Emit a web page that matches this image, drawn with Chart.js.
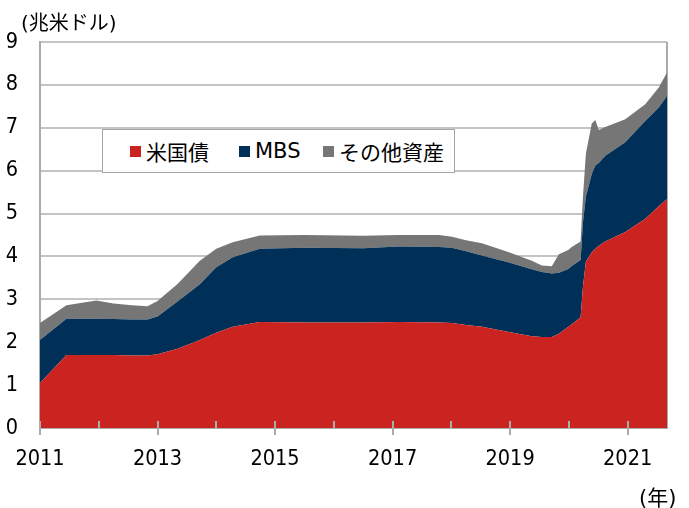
<!DOCTYPE html>
<html>
<head>
<meta charset="utf-8">
<script src="https://cdn.jsdelivr.net/npm/chart.js@4"></script>
<style>
    body { margin: 0; background: #fff; }
    #wrap { position: relative; width: 689px; height: 508px; font-family: "DejaVu Sans", "Noto Sans CJK JP", sans-serif; color: #000; }
    #unit { position: absolute; left: 21px; top: 7px; font-size: 20px; }
    #year { position: absolute; left: 639px; top: 481px; font-size: 21px; }
    #legend { position: absolute; left: 102px; top: 129px; width: 353px; height: 44px; background: #fff;
              border: 1px solid #a6a6a6; box-sizing: border-box; font-size: 21px; }
    #legend span.item { position: absolute; top: 0; height: 42px; display: flex; align-items: center; white-space: nowrap; }
    #legend i { display: inline-block; width: 11px; height: 11px; margin-right: 5px; margin-top: 1px; }
</style>
</head>
<body>
<div id="wrap">
    <canvas id="fed-chart" width="689" height="508"></canvas>
    <div id="unit">(兆米ドル)</div>
    <div id="year">(年)</div>
    <div id="legend"></div>
</div>
<script>
// dates as fractional years
var dates = [2011.00, 2011.45, 2011.96, 2012.25, 2012.56, 2012.83, 2013.00, 2013.34, 2013.72, 2014.00,
    2014.28, 2014.74, 2015.50, 2016.50, 2017.11, 2017.79, 2018.01, 2018.25, 2018.52, 2018.98,
    2019.37, 2019.54, 2019.71, 2019.83, 2019.99, 2020.05, 2020.20, 2020.24, 2020.29, 2020.39,
    2020.45, 2020.51, 2020.62, 2020.96, 2021.30, 2021.53, 2021.67];

// 米国債 (trillion USD)
var treasury = [1.05, 1.70, 1.70, 1.70, 1.69, 1.69, 1.72, 1.85, 2.05, 2.22,
    2.36, 2.47, 2.46, 2.46, 2.47, 2.46, 2.45, 2.40, 2.36, 2.24,
    2.14, 2.12, 2.12, 2.20, 2.36, 2.42, 2.58, 3.30, 3.88, 4.10,
    4.18, 4.25, 4.35, 4.57, 4.88, 5.17, 5.34];

// MBS
var mbs = [1.00, 0.85, 0.85, 0.84, 0.84, 0.84, 0.88, 1.10, 1.30, 1.53,
    1.62, 1.71, 1.74, 1.73, 1.76, 1.76, 1.75, 1.72, 1.66, 1.62,
    1.56, 1.52, 1.48, 1.42, 1.35, 1.36, 1.34, 1.50, 1.52, 1.82,
    1.94, 1.93, 2.00, 2.09, 2.28, 2.30, 2.40];

// その他資産
var other = [0.40, 0.31, 0.42, 0.36, 0.33, 0.31, 0.36, 0.41, 0.55, 0.43,
    0.35, 0.31, 0.30, 0.29, 0.27, 0.28, 0.26, 0.26, 0.29, 0.24,
    0.20, 0.15, 0.17, 0.43, 0.44, 0.44, 0.43, 0.60, 1.00, 1.18,
    1.06, 0.77, 0.67, 0.54, 0.39, 0.47, 0.55];

var yearTicks = [2011, 2012, 2013, 2014, 2015, 2016, 2017, 2018, 2019, 2020, 2021];
var seriesNames = ['米国債', 'MBS', 'その他資産'];
var seriesColors = ['#CA2320', '#003058', '#767676'];
// legend item left offsets inside the box
var legendOffsets = [27, 136, 220];

function toPoints(values) {
    return values.map(function (v, i) { return {x: dates[i], y: v}; });
}

function isLabelled(v) {
    return (v - 2011) % 2 === 0;
}

var axisColor = '#ababab';
var tickFont = {family: "'DejaVu Sans Condensed', 'DejaVu Sans'", size: 21.5};

var plotBorder = {
    id: 'plotBorder',
    beforeDatasetsDraw: function (chart) {
        var a = chart.chartArea, ctx = chart.ctx;
        ctx.save();
        ctx.strokeStyle = axisColor;
        ctx.lineWidth = 2;
        ctx.beginPath();
        ctx.moveTo(a.right, a.top);
        ctx.lineTo(a.right, a.bottom);
        ctx.stroke();
        ctx.restore();
    },
    afterDatasetsDraw: function (chart) {
        // year tick marks: inside for all, crossing for labelled years
        var a = chart.chartArea, ctx = chart.ctx, xs = chart.scales.x;
        ctx.save();
        ctx.strokeStyle = axisColor;
        ctx.lineWidth = 2;
        yearTicks.forEach(function (v) {
            var x = Math.round(xs.getPixelForValue(v));
            ctx.beginPath();
            ctx.moveTo(x, a.bottom - 7);
            ctx.lineTo(x, a.bottom + (isLabelled(v) ? 7 : 0));
            ctx.stroke();
        });
        ctx.restore();
    }
};

var config = {
    type: 'line',
    data: {
        datasets: [
            {label: seriesNames[0], data: toPoints(treasury), backgroundColor: seriesColors[0], fill: 'origin'},
            {label: seriesNames[1], data: toPoints(mbs), backgroundColor: seriesColors[1], fill: '-1'},
            {label: seriesNames[2], data: toPoints(other), backgroundColor: seriesColors[2], fill: '-1'}
        ]
    },
    options: {
        responsive: false,
        animation: false,
        layout: {padding: {top: 42, right: 22, left: 0, bottom: 0}},
        elements: {
            line: {borderWidth: 0, tension: 0},
            point: {radius: 0}
        },
        plugins: {
            legend: {display: false},
            tooltip: {enabled: false}
        },
        scales: {
            x: {
                type: 'linear',
                min: 2011,
                max: 2021.67,
                afterBuildTicks: function (scale) {
                    scale.ticks = yearTicks.map(function (v) { return {value: v}; });
                },
                afterFit: function (scale) {
                    scale.height = 80;
                    scale.paddingLeft = 0;
                    scale.paddingRight = 0;
                },
                grid: {display: false, drawTicks: false},
                border: {display: true, color: axisColor, width: 2},
                ticks: {
                    color: '#000',
                    padding: 19,
                    maxRotation: 0,
                    autoSkip: false,
                    font: tickFont,
                    callback: function (v) { return isLabelled(v) ? String(v) : ''; }
                }
            },
            y: {
                stacked: true,
                min: 0,
                max: 9,
                afterFit: function (scale) {
                    scale.width = 40;
                    scale.paddingTop = 0;
                    scale.paddingBottom = 0;
                },
                grid: {color: '#c4c4c4', lineWidth: 2, drawTicks: false},
                border: {display: true, color: axisColor, width: 2},
                ticks: {
                    stepSize: 1,
                    color: '#000',
                    padding: 22,
                    font: tickFont
                }
            }
        }
    },
    plugins: [plotBorder]
};

var ctx = document.getElementById('fed-chart').getContext('2d');
window.fedChart = new Chart(ctx, config);

// legend box inside the plot
var legend = document.getElementById('legend');
seriesNames.forEach(function (name, i) {
    var item = document.createElement('span');
    item.className = 'item';
    item.style.left = legendOffsets[i] + 'px';
    item.innerHTML = "<i style='background:" + seriesColors[i] + "'></i>" + name;
    legend.appendChild(item);
});
</script>
</body>
</html>
